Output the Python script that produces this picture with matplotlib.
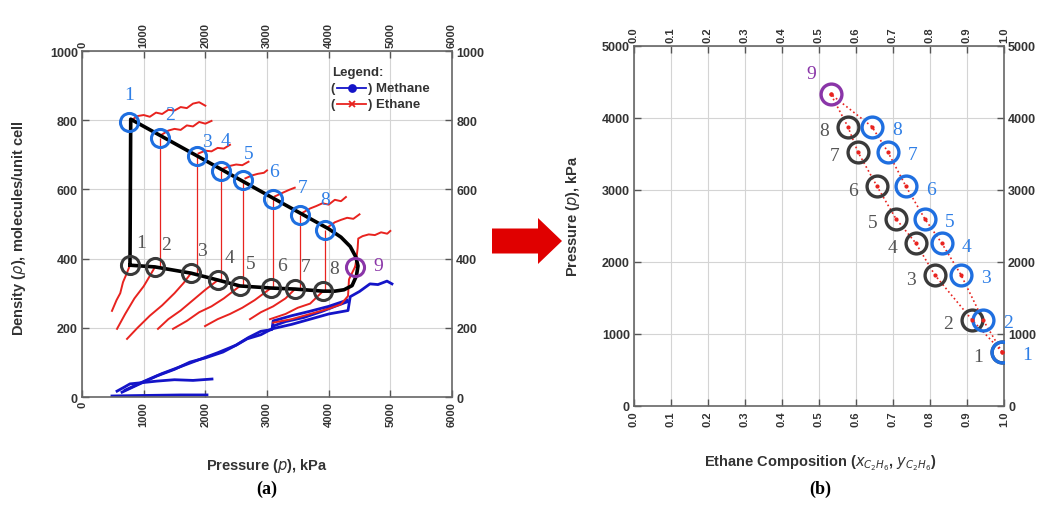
import numpy as np
import matplotlib.pyplot as plt
from matplotlib.patches import FancyArrow

plt.rcParams['font.family'] = ['Liberation Sans', 'DejaVu Sans']

# ---------------- panel (a): density vs pressure ----------------
labels = ['1', '2', '3', '4', '5', '6', '7', '8']
# upper (blue circle) states
blue_p = [762, 1265, 1865, 2254, 2611, 3097, 3535, 3940]
blue_rho = [795, 748, 697, 653, 627, 572, 526, 483]
# lower (black circle) states
black_p = [778, 1184, 1768, 2205, 2562, 3065, 3454, 3908]
black_rho = [381, 376, 358, 338, 321, 315, 312, 306]
# state 9
p9, rho9 = 4427, 376

# phase envelope (thick black curve)
env_p = [778, 790, 1865, 3097, 4000, 4200, 4350, 4440, 4476, 4450, 4380, 4250,
         4100, 3908, 3454, 3065, 2562, 2205, 1768, 1184, 778]
env_rho = [381, 803, 697, 575, 486, 462, 435, 405, 379, 350, 322, 310,
           306, 306, 312, 315, 321, 338, 358, 376, 381]

# ethane isotherm pieces, upper branch
eth_up = [
    ([800, 900, 1000, 1100, 1200, 1300, 1400, 1500, 1600, 1700, 1800, 1900, 2000],
     [800, 812, 815, 810, 822, 818, 830, 828, 838, 835, 848, 852, 842]),
    ([1290, 1400, 1500, 1600, 1700, 1800, 1900, 2000, 2100],
     [758, 770, 775, 772, 785, 782, 795, 790, 798]),
    ([1890, 2000, 2100, 2200, 2300, 2400], [704, 712, 710, 720, 718, 729]),
    ([2290, 2400, 2500, 2600, 2700], [660, 668, 672, 670, 680]),
    ([2650, 2750, 2850, 2950, 3000], [632, 640, 645, 648, 655]),
    ([3130, 3250, 3350, 3450], [580, 590, 598, 605]),
    ([3570, 3700, 3800, 3900, 4000, 4100, 4200, 4280],
     [532, 545, 552, 560, 556, 570, 566, 578]),
    ([3980, 4100, 4200, 4300, 4400, 4500], [490, 505, 512, 518, 515, 528]),
    ([4430, 4450, 4470, 4480, 4550, 4650, 4750, 4850, 4950, 5000],
     [376, 400, 430, 458, 465, 470, 468, 476, 472, 480]),
]
# ethane isotherm pieces, lower branch
eth_low = [
    ([486, 560, 620, 665, 720, 778], [249, 280, 300, 332, 355, 381]),
    ([568, 700, 850, 1000, 1100, 1184], [197, 240, 285, 320, 350, 376]),
    ([730, 900, 1100, 1300, 1500, 1650, 1768], [168, 200, 235, 265, 300, 330, 358]),
    ([1232, 1400, 1600, 1800, 2000, 2205], [197, 225, 250, 280, 310, 338]),
    ([1476, 1700, 1900, 2100, 2300, 2562], [197, 220, 245, 262, 285, 321]),
    ([1995, 2200, 2400, 2600, 2800, 3065], [205, 225, 240, 258, 280, 315]),
    ([2724, 2900, 3100, 3300, 3454], [225, 245, 262, 285, 312]),
    ([3049, 3300, 3500, 3700, 3908], [225, 240, 258, 270, 306]),
    ([3100, 3400, 3700, 4000, 4200, 4314, 4330, 4427],
     [215, 225, 240, 255, 268, 292, 340, 376]),
]
# methane isotherms
meth = [
    ([486, 800, 1200, 1600, 2027], [3, 4, 5, 6, 6]),
    ([568, 700, 778, 1000, 1216, 1500, 1800, 2108], [17, 30, 38, 42, 46, 50, 48, 52]),
    ([649, 900, 1216, 1500, 1751, 2000, 2286, 2500, 2676, 2900, 3081, 3400, 3700,
      4000, 4314, 4350, 4500, 4670, 4800, 4946, 5027],
     [14, 35, 61, 80, 101, 113, 130, 150, 168, 180, 197, 210, 225, 240, 250, 290,
      305, 327, 325, 335, 327]),
    ([700, 1000, 1300, 1600, 1900, 2200, 2500, 2700, 2900, 3081, 3100, 3400, 3700,
      4000, 4300],
     [20, 45, 68, 88, 108, 128, 150, 172, 190, 195, 220, 235, 248, 262, 280]),
    ([3100, 3300, 3600, 3900, 4100, 4300], [205, 218, 230, 248, 262, 275]),
]

# ---------------- panel (b): pressure vs ethane composition ----------------
p_b = [750, 1200, 1820, 2260, 2600, 3050, 3530, 3880, 4330]
x_black = [0.995, 0.913, 0.813, 0.762, 0.708, 0.657, 0.605, 0.578, 0.532]
x_blue = [0.995, 0.943, 0.884, 0.832, 0.786, 0.735, 0.686, 0.643, 0.532]

BLUE = '#1f6fe0'
BLUE_T = '#2f7fe6'
BLACK = '#3a3a3a'
PURPLE = '#8a35a8'
RED = '#e8231f'
MBLUE = '#1414c8'
GRID = '#d4d4d4'
SERIF = ['Liberation Serif', 'DejaVu Serif']
TXT = '#333'

fig = plt.figure(figsize=(10.46, 5.06), dpi=100)
axa = fig.add_axes([0.0784, 0.2134, 0.3537, 0.6838])
axb = fig.add_axes([0.6061, 0.1957, 0.3537, 0.7115])


def style(ax):
    ax.grid(True, color=GRID, lw=0.8)
    ax.set_axisbelow(True)
    ax.tick_params(direction='in', top=True, right=True, labeltop=True,
                   labelright=True, length=5, width=1, color='#555',
                   labelsize=8, labelcolor=TXT, pad=3)
    ax.tick_params(axis='x', labelrotation=90)
    ax.tick_params(axis='y', labelsize=9)
    for t in ax.xaxis.get_major_ticks() + ax.yaxis.get_major_ticks():
        t.label1.set_fontweight('bold')
        t.label2.set_fontweight('bold')
    for s in ax.spines.values():
        s.set_color('#666')
        s.set_linewidth(1.2)


# ----- panel (a)
axa.set_xlim(0, 6000)
axa.set_ylim(0, 1000)
axa.set_xticks(np.arange(0, 6001, 1000))
axa.set_yticks(np.arange(0, 1001, 200))
style(axa)

for px, ry in meth:
    axa.plot(px, ry, color=MBLUE, lw=2, zorder=2)
for px, ry in eth_low:
    axa.plot(px, ry, color=RED, lw=1.4, zorder=3)
for px, ry in eth_up:
    axa.plot(px, ry, color=RED, lw=1.4, zorder=3)
axa.vlines(blue_p[1:], black_rho[1:], blue_rho[1:], color=RED, lw=0.9, zorder=3)
axa.plot(env_p, env_rho, color='black', lw=2.6, zorder=4)

axa.plot(black_p, black_rho, 'o', mfc='none', mec=BLACK, ms=13, mew=2.2, zorder=5)
axa.plot(blue_p, blue_rho, 'o', mfc='none', mec=BLUE, ms=13, mew=2.2, zorder=5)
axa.plot([p9], [rho9], 'o', mfc='none', mec=PURPLE, ms=13, mew=2.2, zorder=5)

blue_off = [(0, 20), (7, 17), (7, 10), (3, 22), (4, 19), (1, 20), (2, 20), (0, 22)]
for lab, px, ry, off in zip(labels, blue_p, blue_rho, blue_off):
    axa.annotate(lab, (px, ry), xytext=off, textcoords='offset points',
                 ha='center', va='center', color=BLUE_T, fontsize=14,
                 family=SERIF, zorder=6)
for lab, px, ry in zip(labels, black_p, black_rho):
    axa.annotate(lab, (px, ry), xytext=(8, 16), textcoords='offset points',
                 ha='center', va='center', color='#555', fontsize=14,
                 family=SERIF, zorder=6)
axa.annotate('9', (p9, rho9), xytext=(17, 1), textcoords='offset points',
             ha='center', va='center', color=PURPLE, fontsize=14, family=SERIF)

# legend drawn by hand
axa.text(0.676, 0.939, 'Legend:', transform=axa.transAxes, fontsize=9.5,
         fontweight='bold', color=TXT, va='center')
for yy, col, mk, name in [(0.893, MBLUE, 'o', ') Methane'), (0.846, RED, 'x', ') Ethane')]:
    axa.text(0.672, yy, '(', transform=axa.transAxes, fontsize=9.5,
             fontweight='bold', color=TXT, va='center')
    axa.plot([0.69, 0.768], [yy, yy], color=col, lw=1.3, transform=axa.transAxes)
    axa.plot([0.729], [yy], marker=mk, color=col, ms=5, mew=1.3,
             transform=axa.transAxes)
    axa.text(0.772, yy, name, transform=axa.transAxes, fontsize=9.5,
             fontweight='bold', color=TXT, va='center')

axa.set_xlabel(r'Pressure ($p$), kPa', fontsize=10.5, fontweight='bold', color=TXT)
axa.set_ylabel(r'Density ($\rho$), molecules/unit cell', fontsize=10.5,
               fontweight='bold', color=TXT)
axa.xaxis.set_label_coords(0.5, -0.17)
axa.yaxis.set_label_coords(-0.145, 0.49)

# ----- panel (b)
axb.set_xlim(0, 1)
axb.set_ylim(0, 5000)
axb.set_xticks(np.arange(0, 1.01, 0.1))
axb.set_xticklabels(['%.1f' % v for v in np.arange(0, 1.01, 0.1)])
axb.set_yticks(np.arange(0, 5001, 1000))
style(axb)

axb.plot(x_black, p_b, ':', color=RED, lw=1.2, zorder=3)
axb.plot(x_blue, p_b, ':', color=RED, lw=1.2, zorder=3)
axb.plot(x_black[:-1], p_b[:-1], 'o', mfc='none', mec=BLACK, ms=15, mew=2.4, zorder=4)
axb.plot(x_blue[:-1], p_b[:-1], 'o', mfc='none', mec=BLUE, ms=15, mew=2.4, zorder=5)
axb.plot(x_black[-1:], p_b[-1:], 'o', mfc='none', mec=PURPLE, ms=15, mew=2.4, zorder=5)
axb.plot(x_black + x_blue, p_b + p_b, 'o', color=RED, ms=2, zorder=6)

for i in range(8):
    axb.annotate(labels[i], (x_black[i], p_b[i]), xytext=(-17, -3),
                 textcoords='offset points', ha='center', va='center',
                 color='#555', fontsize=14, family=SERIF)
    axb.annotate(labels[i], (x_blue[i], p_b[i]), xytext=(18, -2),
                 textcoords='offset points', ha='center', va='center',
                 color=BLUE_T, fontsize=14, family=SERIF)
axb.annotate('9', (x_black[-1], p_b[-1]), xytext=(-14, 15),
             textcoords='offset points', ha='center', va='center',
             color=PURPLE, fontsize=14, family=SERIF)

axb.set_xlabel(r'Ethane Composition ($x_{C_2H_6}$, $y_{C_2H_6}$)', fontsize=10.5,
               fontweight='bold', color=TXT)
axb.set_ylabel(r'Pressure ($p$), kPa', fontsize=10.5, fontweight='bold', color=TXT)
axb.xaxis.set_label_coords(0.503, -0.13)
axb.yaxis.set_label_coords(-0.14, 0.53)

# captions
fig.text(0.255, 0.032, '(a)', ha='center', va='center', fontsize=13,
         fontweight='bold', family=SERIF)
fig.text(0.784, 0.032, '(b)', ha='center', va='center', fontsize=13,
         fontweight='bold', family=SERIF)

# red arrow between panels (pixel coordinates overlay)
ov = fig.add_axes([0, 0, 1, 1], zorder=-1)
ov.set_xlim(0, 1046)
ov.set_ylim(506, 0)
ov.axis('off')
ov.add_patch(FancyArrow(492, 242, 70, 0, width=25, head_width=46,
                        head_length=24, length_includes_head=True,
                        color='#e00000', lw=0))

fig.savefig('out.png', dpi=100)
